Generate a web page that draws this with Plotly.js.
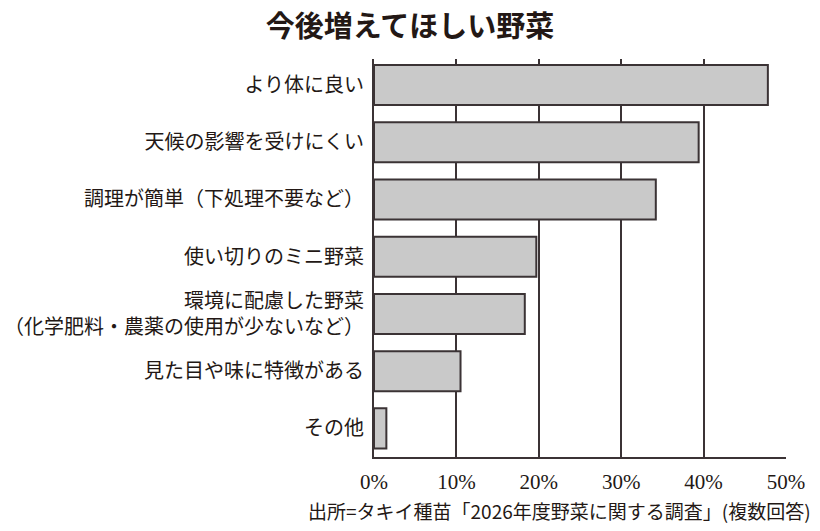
<!DOCTYPE html>
<html>
<head>
<meta charset="utf-8">
<script src="https://cdn.plot.ly/plotly-3.0.1.min.js"></script>
<style>
  html, body { margin: 0; padding: 0; background: #fff; }
  #chart { width: 820px; height: 531px; }
</style>
</head>
<body>
<div id="chart"></div>
<script>
// answers, top to bottom
var reasons = [
  'より体に良い',
  '天候の影響を受けにくい',
  '調理が簡単（下処理不要など）',
  '使い切りのミニ野菜',
  '環境に配慮した野菜<br>（化学肥料・農薬の使用が少ないなど）',
  '見た目や味に特徴がある',
  'その他'
];
var share = [47.8, 39.4, 34.2, 19.7, 18.3, 10.5, 1.5]; // percent
var tickVals = [0, 10, 20, 30, 40, 50];
var tickText = ['0%', '10%', '20%', '30%', '40%', '50%'];

var ink = '#231815';
var jp = '"Noto Sans CJK JP", "Noto Sans", sans-serif';

var trace = {
  type: 'bar',
  orientation: 'h',
  y: reasons,
  x: share,
  width: 0.7,
  marker: { color: '#c9c9c9', line: { color: '#3b3335', width: 2 } },
  hoverinfo: 'x+y'
};

var layout = {
  width: 820, height: 531,
  margin: { l: 374, r: 34, t: 59, b: 74 },
  paper_bgcolor: '#fff', plot_bgcolor: '#fff',
  showlegend: false,
  font: { family: jp, color: ink, size: 20 },
  title: {
    text: '<b>今後増えてほしい野菜</b>',
    font: { family: jp, size: 29, color: ink },
    xref: 'container', x: 0.5, xanchor: 'center',
    yref: 'container', y: 1 - 27 / 531, yanchor: 'middle'
  },
  xaxis: {
    range: [0, 50],
    tickvals: tickVals, ticktext: tickText,
    ticks: '', ticklabelstandoff: 5,
    tickfont: { family: '"Liberation Serif", serif', size: 21, color: ink },
    showgrid: true, gridcolor: '#3b3335', gridwidth: 2,
    showline: true, linecolor: '#3b3335', linewidth: 2,
    zeroline: false, fixedrange: true
  },
  yaxis: {
    type: 'category',
    range: [6.5, -0.455],
    ticks: '', ticklabelstandoff: 4,
    tickfont: { family: jp, size: 20, color: ink },
    showgrid: false,
    showline: true, linecolor: '#3b3335', linewidth: 2,
    zeroline: false, fixedrange: true
  },
  annotations: [{
    text: '出所=タキイ種苗「2026年度野菜に関する調査」(複数回答)',
    xref: 'paper', yref: 'paper',
    x: 1.066, y: -0.134, xanchor: 'right', yanchor: 'middle',
    showarrow: false,
    font: { family: jp, size: 19, color: ink }
  }]
};

Plotly.newPlot('chart', [trace], layout, { displayModeBar: false, staticPlot: true });
</script>
</body>
</html>
